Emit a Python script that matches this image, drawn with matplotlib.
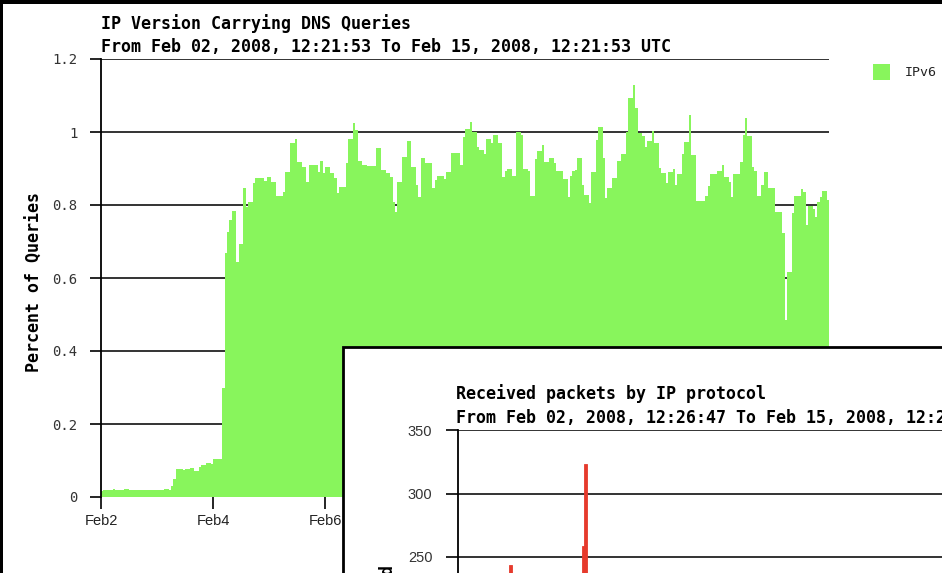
import matplotlib
matplotlib.use("Agg")
import matplotlib.pyplot as plt
from matplotlib.patches import Rectangle

# IPv6 share of DNS queries, step series (hour offset from Feb 2 start, percent)
hours = [0, 1, 5, 6, 10, 12, 27, 29, 30, 31,
         32, 35, 36, 38, 40, 42, 43, 45, 47, 48,
         52, 53, 54, 55, 56, 58, 59, 61, 62, 63,
         65, 66, 70, 71, 73, 75, 78, 79, 81, 83,
         84, 86, 88, 89, 93, 94, 95, 96, 98, 100,
         101, 102, 105, 106, 108, 109, 110, 112, 114, 118,
         120, 122, 124, 125, 126, 127, 129, 131, 133, 135,
         136, 137, 139, 142, 143, 144, 147, 148, 150, 154,
         155, 156, 158, 159, 161, 162, 164, 165, 167, 168,
         170, 172, 173, 174, 176, 178, 180, 181, 183, 184,
         186, 187, 189, 190, 192, 194, 195, 196, 198, 200,
         201, 202, 203, 204, 206, 207, 209, 210, 212, 213,
         215, 216, 217, 219, 221, 223, 225, 226, 228, 229,
         230, 232, 233, 234, 236, 237, 239, 240, 242, 243,
         245, 246, 247, 249, 250, 252, 253, 255, 259, 260,
         261, 264, 266, 267, 269, 270, 271, 274, 275, 276,
         277, 279, 280, 281, 283, 284, 286, 289, 292, 293,
         294, 296, 297, 300, 301, 302, 303, 305, 306, 307,
         308, 309, 311]
ipv6_pct = [0.016, 0.019, 0.023, 0.019, 0.023, 0.019, 0.023, 0.020, 0.030, 0.050,
            0.077, 0.074, 0.078, 0.080, 0.072, 0.083, 0.088, 0.092, 0.090, 0.104,
            0.300, 0.669, 0.727, 0.759, 0.784, 0.645, 0.693, 0.847, 0.795, 0.809,
            0.860, 0.874, 0.865, 0.877, 0.864, 0.825, 0.836, 0.891, 0.971, 0.980,
            0.919, 0.905, 0.864, 0.910, 0.890, 0.921, 0.887, 0.905, 0.887, 0.873,
            0.833, 0.850, 0.915, 0.980, 1.025, 1.005, 0.921, 0.910, 0.908, 0.957,
            0.896, 0.889, 0.876, 0.809, 0.782, 0.864, 0.932, 0.976, 0.905, 0.855,
            0.823, 0.928, 0.916, 0.847, 0.868, 0.879, 0.872, 0.891, 0.942, 0.910,
            0.986, 1.008, 1.028, 1.000, 0.960, 0.951, 0.940, 0.980, 0.970, 0.992,
            0.970, 0.878, 0.894, 0.900, 0.879, 1.001, 0.992, 0.898, 0.892, 0.825,
            0.925, 0.949, 0.964, 0.919, 0.928, 0.916, 0.892, 0.894, 0.870, 0.821,
            0.880, 0.894, 0.896, 0.928, 0.855, 0.827, 0.805, 0.891, 0.978, 1.015,
            0.930, 0.818, 0.846, 0.875, 0.920, 0.939, 0.999, 1.092, 1.129, 1.065,
            0.996, 0.990, 0.960, 0.975, 1.003, 0.969, 0.902, 0.887, 0.859, 0.891,
            0.899, 0.855, 0.884, 0.939, 0.973, 1.047, 0.937, 0.811, 0.825, 0.852,
            0.885, 0.894, 0.910, 0.876, 0.864, 0.821, 0.885, 0.919, 0.992, 1.037,
            0.989, 0.905, 0.894, 0.825, 0.855, 0.891, 0.847, 0.782, 0.722, 0.485,
            0.617, 0.777, 0.825, 0.843, 0.835, 0.745, 0.797, 0.790, 0.768, 0.809,
            0.823, 0.839, 0.814]
end_hour = 312

y_ticks = [0, 0.2, 0.4, 0.6, 0.8, 1.0, 1.2]
y_labels = ["0", "0.2", "0.4", "0.6", "0.8", "1", "1.2"]
day_ticks = [0, 48, 96, 144, 192, 240, 288]
day_labels = ["Feb2", "Feb4", "Feb6", "Feb8", "Feb10", "Feb12", "Feb14"]

# second (overlapping) window: received packets by IP protocol
pkt_hours = [22, 53, 54]
pkt_counts = [244, 259, 323]
pkt_ticks = [250, 300, 350]

GREEN = "#88f55c"
RED = "#e63a2c"
W, H = 942, 573
MONO = "DejaVu Sans Mono"


def fx(x):
    return x / W


def fy(y):
    return 1 - y / H


fig = plt.figure(figsize=(W / 100, H / 100), dpi=100)
fig.patch.set_facecolor("black")
fig.patches.append(Rectangle((fx(3), 0), 1, fy(4), transform=fig.transFigure,
                             facecolor="white", edgecolor="none", zorder=-5))

# main chart
ax = fig.add_axes([fx(101), fy(497), (829 - 101) / W, (497 - 59) / H])
ax.set_facecolor("white")
ax.hlines(y_ticks, 0, end_hour, colors="#111111", linewidth=1.2, zorder=0.5)
ax.stairs(ipv6_pct, hours + [end_hour], fill=True, color=GREEN, zorder=1)
ax.set_xlim(0, end_hour)
ax.set_ylim(0, 1.2)
ax.set_yticks(y_ticks)
ax.set_yticklabels(y_labels, fontfamily=MONO, fontsize=10, color="#333333")
ax.set_xticks(day_ticks)
ax.set_xticklabels(day_labels, fontfamily="Liberation Sans", fontsize=10.5, color="#222222")
for s in ["top", "right", "bottom"]:
    ax.spines[s].set_visible(False)
ax.spines["left"].set_linewidth(1.3)
ax.spines["left"].set_zorder(3)
ax.tick_params(axis="y", direction="out", length=8, width=1.2, pad=9)
ax.tick_params(axis="x", direction="out", length=8.5, width=1.2, pad=4)

fig.text(fx(101), fy(24), "IP Version Carrying DNS Queries", fontfamily=MONO,
         fontweight="bold", fontsize=12, va="center", ha="left")
fig.text(fx(101), fy(47), "From Feb 02, 2008, 12:21:53 To Feb 15, 2008, 12:21:53 UTC",
         fontfamily=MONO, fontweight="bold", fontsize=12, va="center", ha="left")
fig.text(fx(35), fy(282), "Percent of Queries", fontfamily=MONO, fontweight="bold",
         fontsize=12, rotation=90, va="center", ha="center")

# legend
fig.patches.append(Rectangle((fx(873), fy(80)), 17 / W, 16 / H, transform=fig.transFigure,
                             facecolor=GREEN, edgecolor="none"))
fig.text(fx(905), fy(73), "IPv6", fontfamily=MONO, fontsize=9.5, color="#222222",
         va="center", ha="left")

# overlapping window
fig.patches.append(Rectangle((fx(343), -0.1), 1, fy(347) + 0.1, transform=fig.transFigure,
                             facecolor="white", edgecolor="black", linewidth=2, zorder=2))
ax2 = fig.add_axes([fx(458), fy(874.5), 728 / W, 444.5 / H], zorder=3)
ax2.set_facecolor("none")
ax2.hlines(pkt_ticks, 0, end_hour, colors="#111111", linewidth=1.2, zorder=0.5)
ax2.bar(pkt_hours, pkt_counts, width=1.3, align="edge", color=RED,
        edgecolor=RED, linewidth=0.6, zorder=1)
ax2.set_xlim(0, end_hour)
ax2.set_ylim(0, 350)
ax2.set_yticks(pkt_ticks)
ax2.set_yticklabels([str(t) for t in pkt_ticks], fontfamily="Liberation Sans",
                    fontsize=10.5, color="#333333")
ax2.set_xticks([])
for s in ["top", "right", "bottom"]:
    ax2.spines[s].set_visible(False)
ax2.spines["left"].set_linewidth(1.3)
ax2.tick_params(axis="y", direction="out", length=8.5, width=1.2, pad=10)

fig.text(fx(456), fy(394), "Received packets by IP protocol", fontfamily=MONO,
         fontweight="bold", fontsize=12, va="center", ha="left", zorder=4)
fig.text(fx(456), fy(418), "From Feb 02, 2008, 12:26:47 To Feb 15, 2008, 12:26:47 UTC",
         fontfamily=MONO, fontweight="bold", fontsize=12, va="center", ha="left", zorder=4)
fig.text(fx(388), fy(565), "Packets per Second", fontfamily=MONO, fontweight="bold",
         fontsize=12, rotation=90, va="top", ha="center", zorder=4)

fig.savefig("out.png", dpi=100, facecolor=fig.get_facecolor())
